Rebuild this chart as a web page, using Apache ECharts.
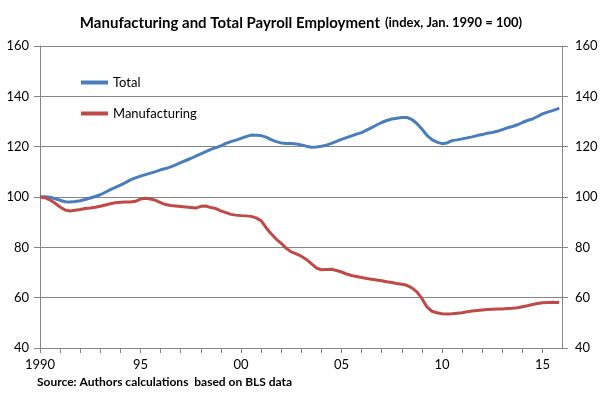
<!DOCTYPE html>
<html>
<head>
<meta charset="utf-8">
<script src="https://cdn.jsdelivr.net/npm/echarts@6/dist/echarts.min.js"></script>
<style>
  html, body { margin: 0; padding: 0; background: #fff; }
  #chart { width: 602px; height: 398px; }
</style>
</head>
<body>
<div id="chart"></div>
<script>
// quarterly sample points (decimal year)
var years = [
  1990.0, 1990.25, 1990.5, 1990.75, 1991.0, 1991.25, 1991.5, 1991.75,
  1992.0, 1992.25, 1992.5, 1992.75, 1993.0, 1993.25, 1993.5, 1993.75,
  1994.0, 1994.25, 1994.5, 1994.75, 1995.0, 1995.25, 1995.5, 1995.75,
  1996.0, 1996.25, 1996.5, 1996.75, 1997.0, 1997.25, 1997.5, 1997.75,
  1998.0, 1998.25, 1998.5, 1998.75, 1999.0, 1999.25, 1999.5, 1999.75,
  2000.0, 2000.25, 2000.5, 2000.75, 2001.0, 2001.25, 2001.5, 2001.75,
  2002.0, 2002.25, 2002.5, 2002.75, 2003.0, 2003.25, 2003.5, 2003.75,
  2004.0, 2004.25, 2004.5, 2004.75, 2005.0, 2005.25, 2005.5, 2005.75,
  2006.0, 2006.25, 2006.5, 2006.75, 2007.0, 2007.25, 2007.5, 2007.75,
  2008.0, 2008.25, 2008.5, 2008.75, 2009.0, 2009.25, 2009.5, 2009.75,
  2010.0, 2010.25, 2010.5, 2010.75, 2011.0, 2011.25, 2011.5, 2011.75,
  2012.0, 2012.25, 2012.5, 2012.75, 2013.0, 2013.25, 2013.5, 2013.75,
  2014.0, 2014.25, 2014.5, 2014.75, 2015.0, 2015.25, 2015.5, 2015.75,
  2015.83
];

var totalIndex = [
  100.0, 100.1, 99.9, 99.3, 98.7, 98.1, 98.0, 98.2,
  98.5, 99.0, 99.6, 100.2, 100.9, 101.9, 102.9, 103.8,
  104.7, 105.7, 106.8, 107.6, 108.3, 108.9, 109.5, 110.1,
  110.8, 111.3, 112.0, 112.8, 113.7, 114.5, 115.3, 116.2,
  117.1, 118.0, 118.9, 119.6, 120.3, 121.3, 122.0, 122.6,
  123.3, 124.0, 124.6, 124.5, 124.4, 123.8, 122.8, 122.0,
  121.5, 121.3, 121.3, 121.1, 120.7, 120.2, 119.8, 119.9,
  120.2, 120.6, 121.3, 122.1, 122.9, 123.6, 124.3, 125.0,
  125.6, 126.6, 127.6, 128.6, 129.6, 130.4, 131.0, 131.3,
  131.6, 131.6, 130.8, 129.2, 127.0, 124.5, 122.8, 121.8,
  121.2, 121.5, 122.4, 122.7, 123.1, 123.5, 123.9, 124.4,
  124.8, 125.3, 125.6, 126.1, 126.8, 127.5, 128.0, 128.7,
  129.6, 130.4, 131.0, 132.0, 133.0, 133.7, 134.3, 135.0,
  135.3
];

var manufacturingIndex = [
  100.0, 99.7, 98.8, 97.5, 96.0, 94.8, 94.4, 94.7,
  95.0, 95.4, 95.6, 95.9, 96.3, 96.8, 97.3, 97.7,
  97.9, 98.0, 98.0, 98.3, 99.2, 99.5, 99.2, 98.7,
  97.8, 97.0, 96.6, 96.4, 96.2, 96.0, 95.8, 95.6,
  96.3, 96.4, 95.8, 95.4, 94.5, 93.8, 93.1, 92.8,
  92.6, 92.5, 92.3, 91.7, 90.6, 87.8, 85.4, 83.3,
  81.6, 79.6, 78.2, 77.4, 76.5, 75.2, 73.5, 71.8,
  71.1, 71.2, 71.3, 70.8, 70.2, 69.4, 68.8, 68.4,
  68.0, 67.6, 67.3, 67.0, 66.7, 66.3, 66.0, 65.6,
  65.3, 64.9, 63.9, 62.3, 59.7, 56.3, 54.6, 54.0,
  53.6, 53.5, 53.6, 53.8, 54.0, 54.4, 54.7, 54.9,
  55.1, 55.3, 55.4, 55.5, 55.5, 55.7, 55.8, 56.0,
  56.4, 56.8, 57.3, 57.7, 58.0, 58.1, 58.2, 58.1,
  58.3
];

// x labels shown every 5 years
var yearLabels = { 1990: '1990', 1995: '95', 2000: '00', 2005: '05', 2010: '10', 2015: '15' };

function pairs (xs, ys) {
  var out = []
  for (var i = 0; i < xs.length; i++) out.push([xs[i], ys[i]])
  return out
}

var FONT = 'Lato, "Open Sans", sans-serif'
var GRID_COLOR = '#868686'

var myChart = echarts.init(document.getElementById('chart'), null, { renderer: 'canvas' })

var yAxisBase = {
  type: 'value',
  min: 40,
  max: 160,
  interval: 20,
  axisLine: { show: true, lineStyle: { color: GRID_COLOR, width: 1 } },
  axisTick: { show: true, length: 6, lineStyle: { color: GRID_COLOR } },
  axisLabel: { color: '#000', fontSize: 13, fontFamily: FONT }
}

var option = {
  animation: false,
  backgroundColor: '#fff',
  title: {
    left: 'center',
    top: 9,
    text: '{b|Manufacturing and Total Payroll Employment} {n|(index, Jan. 1990 = 100)}',
    textStyle: {
      rich: {
        b: { fontSize: 15, fontWeight: 'bold', color: '#000', fontFamily: FONT },
        n: { fontSize: 13, color: '#000', fontFamily: FONT }
      }
    }
  },
  legend: {
    orient: 'vertical',
    left: 76,
    top: 71,
    itemGap: 18,
    itemWidth: 27,
    itemHeight: 4,
    icon: 'rect',
    textStyle: { fontSize: 13, color: '#000', fontFamily: FONT },
    data: ['Total', 'Manufacturing']
  },
  grid: {
    left: 40,
    right: 40,
    top: 46,
    bottom: 50,
    containLabel: false
  },
  xAxis: {
    type: 'value',
    min: 1990,
    max: 2015.97,
    interval: 1,
    splitLine: { show: false },
    axisLine: { show: true, onZero: false, lineStyle: { color: GRID_COLOR, width: 1 } },
    axisTick: { show: true, length: 5, lineStyle: { color: GRID_COLOR } },
    axisLabel: {
      color: '#000',
      fontSize: 13,
      fontFamily: FONT,
      margin: 10,
      showMaxLabel: false,
      formatter: function (v) {
        return yearLabels[Math.round(v * 100) / 100] || ''
      }
    }
  },
  yAxis: [
    Object.assign({}, yAxisBase, {
      position: 'left',
      splitLine: { show: true, lineStyle: { color: GRID_COLOR, width: 1 } },
      axisLabel: Object.assign({}, yAxisBase.axisLabel, { margin: 11 })
    }),
    Object.assign({}, yAxisBase, {
      position: 'right',
      splitLine: { show: false },
      axisLabel: Object.assign({}, yAxisBase.axisLabel, { margin: 13 })
    })
  ],
  graphic: [{
    type: 'text',
    left: 37,
    top: 376,
    style: {
      text: 'Source: Authors calculations  based on BLS data',
      font: 'bold 12px ' + FONT,
      fill: '#000'
    }
  }],
  series: [
    {
      name: 'Total',
      type: 'line',
      showSymbol: false,
      color: '#4a7ebb',
      lineStyle: { width: 3, color: '#4a7ebb' },
      data: pairs(years, totalIndex)
    },
    {
      name: 'Manufacturing',
      type: 'line',
      showSymbol: false,
      color: '#be4b48',
      lineStyle: { width: 3, color: '#be4b48' },
      data: pairs(years, manufacturingIndex)
    }
  ]
}

myChart.setOption(option)
</script>
</body>
</html>
